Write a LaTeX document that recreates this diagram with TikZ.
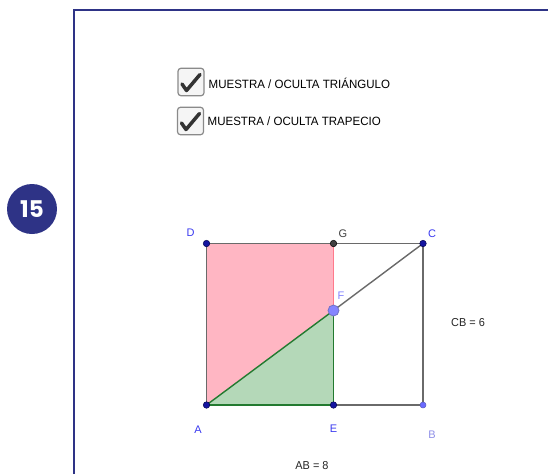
\documentclass[tikz,border=0pt]{standalone}
\usepackage{fontspec}
\setmainfont{Liberation Sans}
\newfontfamily\numfont{Poppins}
\definecolor{navy}{HTML}{2E3386}
\definecolor{ggblue}{HTML}{3A3AF0}
\definecolor{gglight}{HTML}{8585FF}
\definecolor{ggbpale}{HTML}{8F8FE8}
\definecolor{ggdot}{HTML}{1414A0}
\definecolor{edgegray}{HTML}{6A6A6A}
\definecolor{pinkfill}{HTML}{FFB6C3}
\definecolor{pinkline}{HTML}{FF7A8C}
\definecolor{greenfill}{HTML}{B4D8B8}
\definecolor{greenline}{HTML}{237A30}
\definecolor{boxgray}{HTML}{8A8A8A}
\begin{document}
\begin{tikzpicture}[x=1pt,y=-1pt,
  frame/.style={draw=navy,line width=2pt},
  numbadge/.style={circle,fill=navy,minimum size=50pt,inner sep=0pt,text=white,font=\numfont\bfseries\fontsize{23}{23}\selectfont},
  chkbox/.style={draw=boxgray,fill=gray!8,rounded corners=3pt,line width=1.2pt,minimum width=26pt,minimum height=27.5pt,inner sep=0pt},
  chkmark/.style={draw=black!80,line width=3.5pt,line cap=round,line join=round},
  chklabel/.style={anchor=west,inner sep=0pt,font=\fontsize{12}{13}\selectfont},
  edge/.style={draw=edgegray,line width=1.4pt},
  pinkedge/.style={draw=pinkline,line width=1.4pt},
  greenedge/.style={draw=greenline,line width=1.4pt},
  dotblue/.style={circle,fill=ggdot,draw=black!70!blue,line width=0.5pt,minimum size=6.5pt,inner sep=0pt},
  dotgray/.style={circle,fill=black!75,draw=black,line width=0.5pt,minimum size=6.5pt,inner sep=0pt},
  dotpale/.style={circle,fill=gglight!80!blue,draw=ggdot!70,line width=0.5pt,minimum size=6pt,inner sep=0pt},
  dotF/.style={circle,fill=gglight,draw=ggdot!60,line width=0.8pt,minimum size=11pt,inner sep=0pt},
  ptlabel/.style={inner sep=0pt,font=\fontsize{11}{12}\selectfont,text=ggblue},
  measure/.style={inner sep=0pt,font=\fontsize{11.5}{12}\selectfont,text=black!85}]
\useasboundingbox (0,0) rectangle (548,474);
\fill[white] (0,0) rectangle (548,474);
% frame
\coordinate (fb) at (74,474);
\coordinate (fc) at (74,10);
\coordinate (fr) at (548,10);
\draw[frame] (fb) -- (fc) -- (fr);
% badge
\node[numbadge] (badge) at (32,209) {15};
% checkboxes
\node[chkbox] (box1) at (191,82) {};
\node[chkbox] (box2) at (190.5,121) {};
\draw[chkmark] ([shift={(-9,2)}]box1.center) -- ([shift={(-4.5,8.5)}]box1.center) -- ([shift={(9,-7.5)}]box1.center);
\draw[chkmark] ([shift={(-9,2)}]box2.center) -- ([shift={(-4.5,8.5)}]box2.center) -- ([shift={(9,-7.5)}]box2.center);
\node[chklabel] (t1) at (208.5,83.5) {\scalebox{0.96}[1]{MUESTRA / OCULTA TRIÁNGULO}};
\node[chklabel] (t2) at (207.5,121.5) {\scalebox{0.96}[1]{MUESTRA / OCULTA TRAPECIO}};
% geometry points
\coordinate (pA) at (206.5,405);
\coordinate (pB) at (423,405);
\coordinate (pC) at (423,243.5);
\coordinate (pD) at (206.5,243.5);
\coordinate (pE) at (333.5,405);
\coordinate (pG) at (333.5,243.5);
\coordinate (pF) at (333.5,310.5);
% fills
\fill[pinkfill] (pA) -- (pD) -- (pG) -- (pF) -- cycle;
\fill[greenfill] (pA) -- (pE) -- (pF) -- cycle;
% edges
\draw[edge] (pA) -- (pD);
\draw[edge] (pD) -- (pG);
\draw[edge] (pG) -- (pC);
\draw[edge] (pC) -- (pB);
\draw[edge] (pE) -- (pB);
\draw[edge] (pF) -- (pC);
\draw[pinkedge] (pG) -- (pF);
\draw[greenedge] (pA) -- (pE);
\draw[greenedge] (pE) -- (pF);
\draw[greenedge] (pA) -- (pF);
% dots
\node[dotblue] (A) at (pA) {};
\node[dotblue] (D) at (pD) {};
\node[dotblue] (C) at (pC) {};
\node[dotblue] (E) at (pE) {};
\node[dotgray] (G) at (pG) {};
\node[dotpale] (B) at (pB) {};
\node[dotF] (F) at (pF) {};
% labels
\node[ptlabel] (lD) at (190.5,233) {D};
\node[ptlabel,text=black!75] (lG) at (343,233.5) {G};
\node[ptlabel] (lC) at (432,233.5) {C};
\node[ptlabel,text=gglight] (lF) at (341,295.5) {F};
\node[ptlabel] (lA) at (198,430) {A};
\node[ptlabel] (lE) at (333.5,429) {E};
\node[ptlabel,text=ggbpale] (lB) at (432,434.5) {B};
\node[measure] (mCB) at (468,323) {\scalebox{0.95}[1]{CB = 6}};
\node[measure] (mAB) at (312,466) {\scalebox{0.95}[1]{AB = 8}};
\end{tikzpicture}
\end{document}
